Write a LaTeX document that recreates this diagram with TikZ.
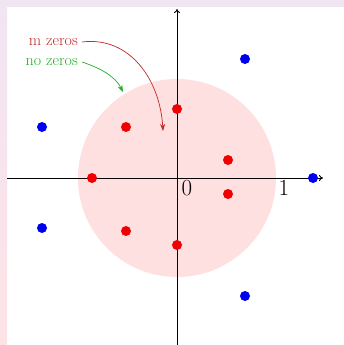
\documentclass[tikz,border=0pt]{standalone}
\usetikzlibrary{arrows.meta}
\definecolor{lav}{HTML}{F1E4F3}
\definecolor{pinkstrip}{HTML}{FDE3E6}
\definecolor{diskfill}{HTML}{FFE0E0}
\definecolor{dotred}{HTML}{F00000}
\definecolor{dotblue}{HTML}{0000F0}
\definecolor{lblred}{HTML}{C42828}
\definecolor{lblgreen}{HTML}{22B02A}
\tikzset{
  rdot/.style={circle,fill=dotred,inner sep=0pt,minimum size=10pt},
  bdot/.style={circle,fill=dotblue,inner sep=0pt,minimum size=10pt},
  axis/.style={line width=0.9pt,-{To[length=4pt,width=6pt]}},
  numlbl/.style={font=\fontsize{23}{23}\selectfont,inner sep=0pt},
  annot/.style={font=\fontsize{16}{16}\selectfont,inner sep=0pt}
}
\begin{document}
\begin{tikzpicture}[x=1pt,y=-1pt]
\useasboundingbox (0,0) rectangle (344,345);
\fill[white] (0,0) rectangle (344,345);
\fill[lav] (0,0) rectangle (344,7);
\shade[top color=lav,bottom color=pinkstrip] (0,7) rectangle (7,345);
% disk
\fill[diskfill] (177,178) circle (99);
% axes
\coordinate (xs) at (7,178);
\coordinate (xe) at (323,178);
\coordinate (ys) at (177,345);
\coordinate (ye) at (177,9);
\draw[axis] (xs) -- (xe);
\draw[axis] (ys) -- (ye);
% labels
\node[numlbl] (zero) at (187,188) {0};
\node[numlbl] (one) at (284,188) {1};
% red dots
\node[rdot] (r1) at (177,109) {};
\node[rdot] (r2) at (126,127) {};
\node[rdot] (r3) at (228,160) {};
\node[rdot] (r4) at (228,194) {};
\node[rdot] (r5) at (92,178) {};
\node[rdot] (r6) at (126,231) {};
\node[rdot] (r7) at (177,245) {};
% blue dots
\node[bdot] (b1) at (245,59) {};
\node[bdot] (b2) at (42,127) {};
\node[bdot] (b3) at (313,178) {};
\node[bdot] (b4) at (42,228) {};
\node[bdot] (b5) at (245,296) {};
% annotations
\node[annot,text=lblred,anchor=east] (mz) at (78,42) {m zeros};
\node[annot,text=lblgreen,anchor=east] (nz) at (78,62) {no zeros};
\coordinate (mt) at (163,131);
\coordinate (nt) at (123,92);
\draw[lblred,line width=0.7pt,-{Stealth[length=7pt,width=5pt]}] (mz.east) ++(4,0) coordinate (ms)
  (ms) .. controls (130,36) and (160,80) .. (mt);
\draw[lblgreen,line width=0.7pt,-{Stealth[length=7pt,width=5pt]}] (nz.east) ++(4,0) coordinate (ns)
  (ns) .. controls (100,68) and (115,76) .. (nt);
\end{tikzpicture}
\end{document}
